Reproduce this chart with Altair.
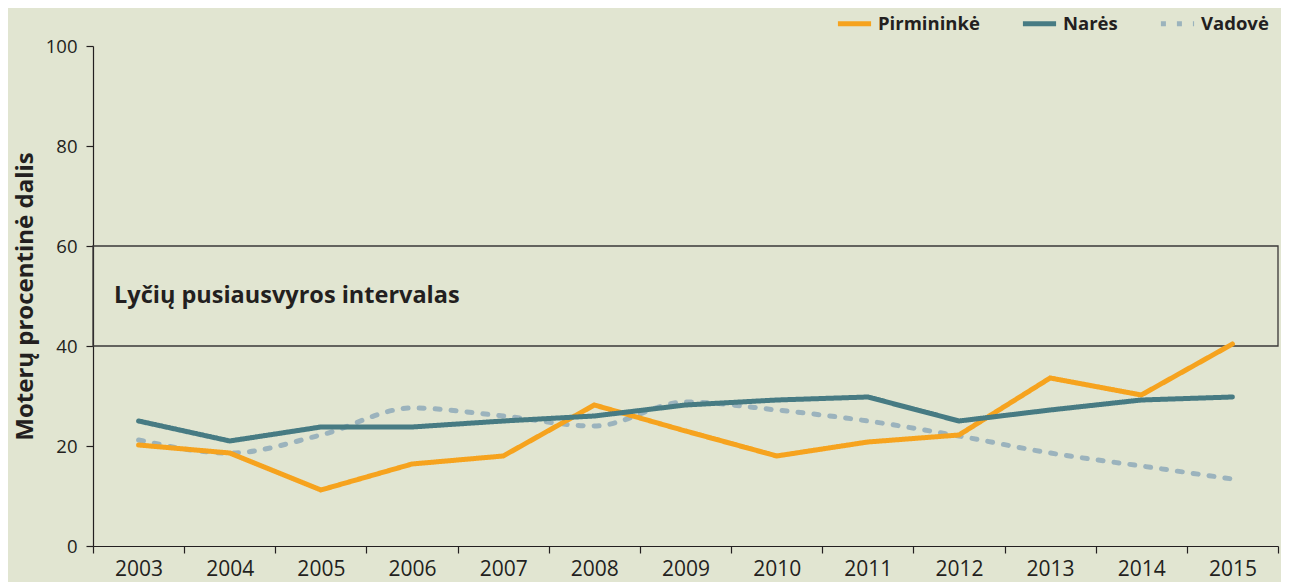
import altair as alt
import pandas as pd

years = [str(y) for y in range(2003, 2016)]
series_names = ["Pirmininkė", "Narės", "Vadovė"]
pirmininke = [20.2, 18.6, 11.2, 16.4, 18.0, 28.2, 23.0, 18.0, 20.8, 22.2, 33.6, 30.2, 40.4]
nares = [25.0, 21.0, 23.8, 23.8, 25.0, 26.0, 28.2, 29.2, 29.8, 25.0, 27.2, 29.2, 29.8]
vadove = [21.2, 18.6, 22.2, 27.6, 26.0, 24.0, 28.8, 27.2, 25.0, 22.0, 18.6, 16.0, 13.4]
y_ticks = [0, 20, 40, 60, 80, 100]
band_lo, band_hi = [40], [60]
band_label = ["Lyčių pusiausvyros intervalas"]

rows = []
for name, vals in zip(series_names, [pirmininke, nares, vadove]):
    for yr, v in zip(years, vals):
        rows.append({"metai": yr, "serija": name, "reiksme": v})
df = pd.DataFrame(rows)

FONT = "Open Sans"
DARK = "#231F20"
BG = "#E1E5D1"
colors = ["#F6A31E", "#477B83", "#9BB3BD"]

W, H = 1185, 500

x_enc = alt.X("metai:N", sort=years, title=None,
              scale=alt.Scale(paddingInner=0, paddingOuter=0),
              axis=alt.Axis(labelAngle=0, tickBand="extent", tickSize=7,
                            labelPadding=5, labelFontSize=21, labelColor=DARK,
                            domainColor=DARK, tickColor=DARK, domainWidth=1.2,
                            tickWidth=1.2, labelFont=FONT))
y_enc = alt.Y("reiksme:Q", title="Moterų procentinė dalis",
              scale=alt.Scale(domain=[0, 100], nice=False),
              axis=alt.Axis(values=y_ticks, grid=False, tickSize=7,
                            labelFontSize=18.5, labelColor=DARK, labelPadding=9,
                            domainColor=DARK, tickColor=DARK, domainWidth=1.2,
                            tickWidth=1.2, titleFontSize=24, titleFont=FONT,
                            titleFontWeight="bold", titleColor=DARK,
                            titlePadding=8, labelFont=FONT))
color_enc = alt.Color("serija:N", title=None,
                      scale=alt.Scale(domain=series_names, range=colors),
                      legend=alt.Legend(orient="none", legendX=742, legendY=-42,
                                        direction="horizontal", symbolType="stroke",
                                        symbolSize=1100, symbolStrokeWidth=5,
                                        labelFontSize=18.5, labelFont=FONT,
                                        labelFontWeight="bold", labelColor=DARK,
                                        columnPadding=32, labelOffset=4))
dash_enc = alt.StrokeDash("serija:N", title=None,
                          scale=alt.Scale(domain=series_names,
                                          range=[[1, 0], [1, 0], [5, 11]]))

base = alt.Chart(df)

box = alt.Chart(pd.DataFrame({"lo": band_lo, "hi": band_hi})).mark_rect(
    fillOpacity=0, stroke="#3A3838", strokeWidth=1.3
).encode(y=alt.Y("lo:Q"), y2="hi:Q", x=alt.value(0), x2=alt.value(W))

label = alt.Chart(pd.DataFrame({"t": band_label, "v": [50]})).mark_text(
    align="left", baseline="middle", fontSize=23.5, fontWeight="bold",
    font=FONT, color=DARK
).encode(text="t:N", y=alt.Y("v:Q"), x=alt.value(21))

solid = base.transform_filter(alt.datum.serija != "Vadovė").mark_line(
    strokeWidth=5, strokeCap="round", strokeJoin="miter"
).encode(x=x_enc, y=y_enc, color=color_enc, strokeDash=dash_enc,
         detail="serija:N")

dashed = base.transform_filter(alt.datum.serija == "Vadovė").mark_line(
    strokeWidth=5, strokeCap="round", interpolate="monotone"
).encode(x=x_enc, y=y_enc, color=color_enc, strokeDash=dash_enc)

chart = alt.layer(box, label, dashed, solid).properties(
    width=W, height=H,
    autosize=alt.AutoSizeParams(type="none"),
    padding={"left": 85, "top": 38, "right": 3, "bottom": 40},
    background=BG,
).configure_view(stroke=None).configure_axis(labelFont=FONT, titleFont=FONT)

chart.save("out.html", embed_options={"renderer": "svg", "actions": False})
